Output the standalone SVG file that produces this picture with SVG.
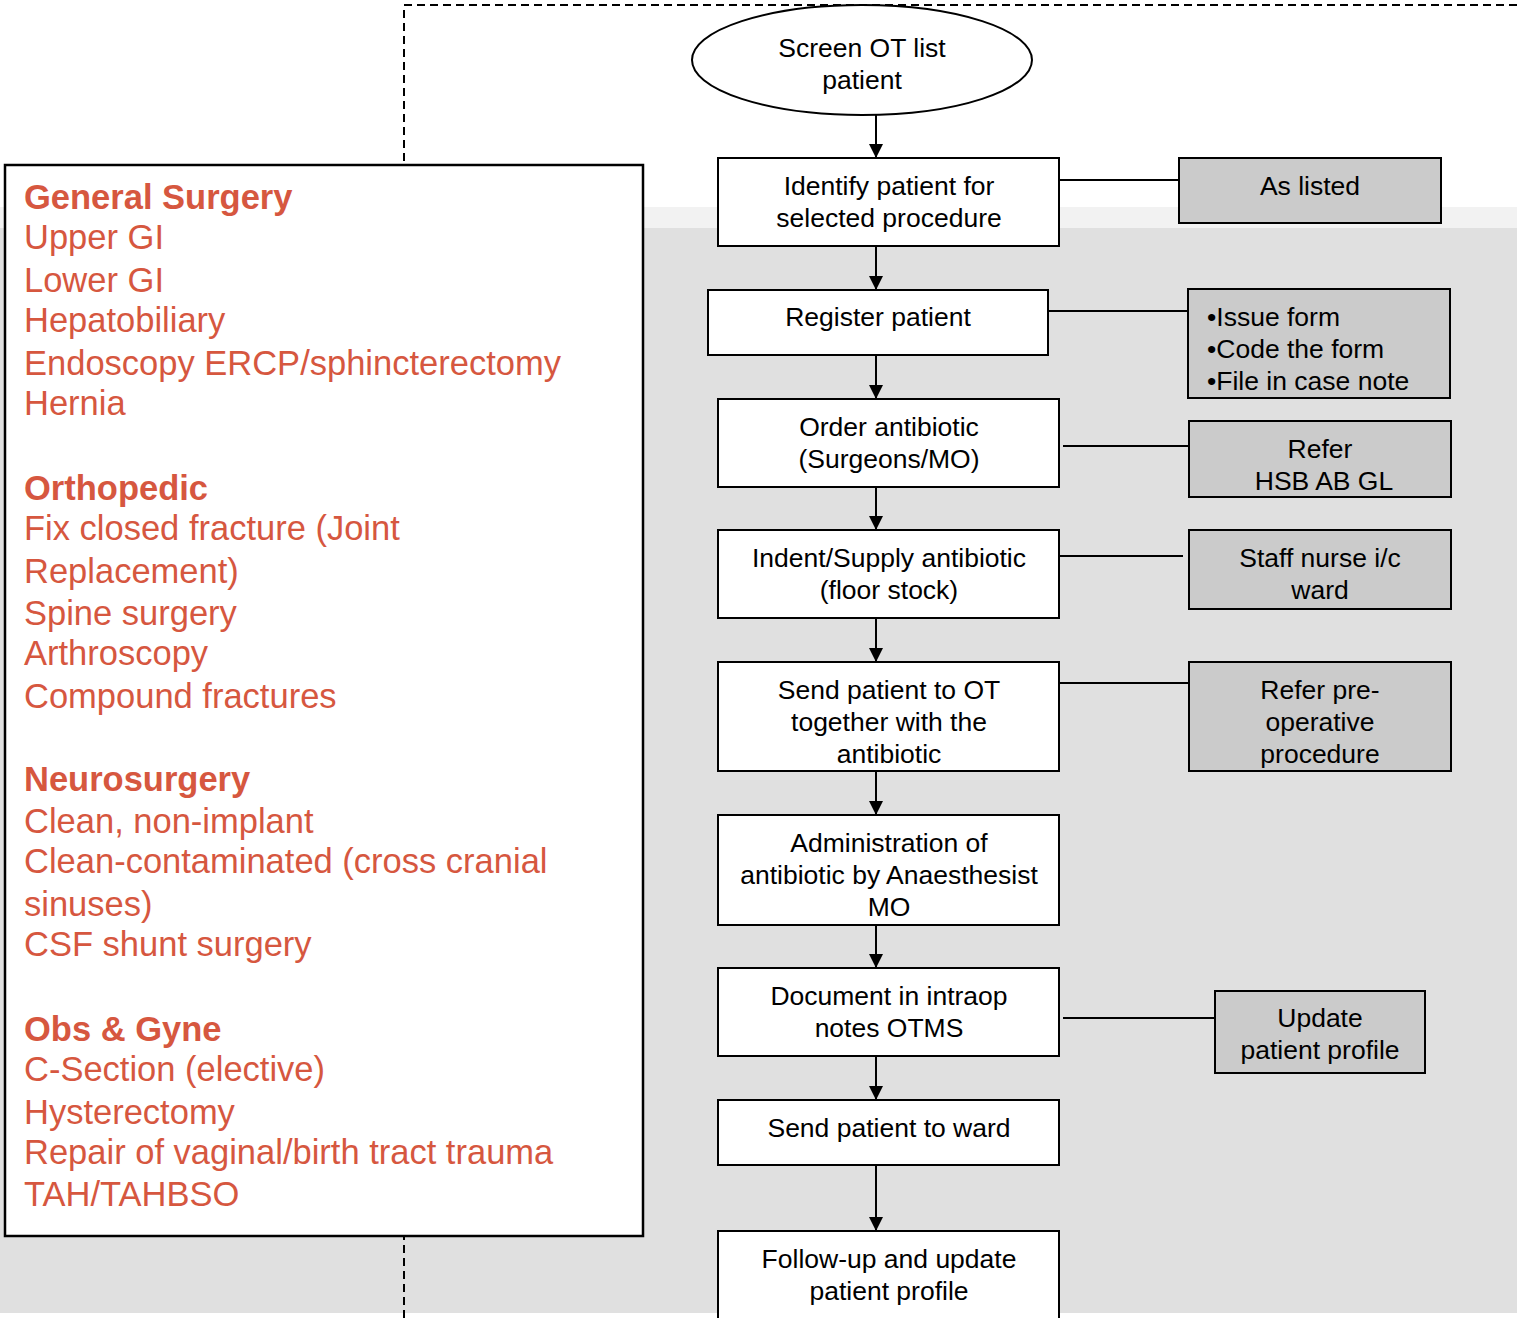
<svg xmlns="http://www.w3.org/2000/svg" width="1517" height="1318" viewBox="0 0 1517 1318">
<defs>
<style>
.t{font-family:"Liberation Sans",Arial,sans-serif;font-size:26.5px;fill:#000;text-anchor:middle}
.tl{font-family:"Liberation Sans",Arial,sans-serif;font-size:26.5px;fill:#000}
.r{font-family:"Liberation Sans",Arial,sans-serif;font-size:34.5px;fill:#d6573f}
.rb{font-family:"Liberation Sans",Arial,sans-serif;font-size:34.5px;fill:#d6573f;font-weight:bold}
.box{fill:#fff;stroke:#000;stroke-width:2}
.side{fill:#cbcbcb;stroke:#000;stroke-width:2}
.ln{stroke:#000;stroke-width:2;fill:none}
</style>
<marker id="ah" markerWidth="14" markerHeight="14" refX="14" refY="7" orient="auto" markerUnits="userSpaceOnUse" viewBox="0 0 14 14">
<path d="M0,0 L14,7 L0,14 Z" fill="#000"/>
</marker>
</defs>
<rect x="0" y="0" width="1517" height="1318" fill="#fff"/>
<rect x="0" y="207" width="1517" height="21" fill="#f2f2f2"/>
<rect x="0" y="228" width="1517" height="1085" fill="#e0e0e0"/>
<path d="M404,1318 L404,5 L1517,5" fill="none" stroke="#000" stroke-width="2" stroke-dasharray="8,5"/>

<g id="list">
<rect x="5" y="165" width="638" height="1071" fill="#fff" stroke="#000" stroke-width="2.5"/>
<text class="rb" x="24" y="209">General Surgery</text>
<text class="r" x="24" y="249">Upper GI</text>
<text class="r" x="24" y="292">Lower GI</text>
<text class="r" x="24" y="332">Hepatobiliary</text>
<text class="r" x="24" y="375">Endoscopy ERCP/sphincterectomy</text>
<text class="r" x="24" y="415">Hernia</text>
<text class="rb" x="24" y="500">Orthopedic</text>
<text class="r" x="24" y="540">Fix closed fracture (Joint</text>
<text class="r" x="24" y="583">Replacement)</text>
<text class="r" x="24" y="625">Spine surgery</text>
<text class="r" x="24" y="665">Arthroscopy</text>
<text class="r" x="24" y="708">Compound fractures</text>
<text class="rb" x="24" y="791">Neurosurgery</text>
<text class="r" x="24" y="833">Clean, non-implant</text>
<text class="r" x="24" y="873">Clean-contaminated (cross cranial</text>
<text class="r" x="24" y="916">sinuses)</text>
<text class="r" x="24" y="956">CSF shunt surgery</text>
<text class="rb" x="24" y="1041">Obs &amp; Gyne</text>
<text class="r" x="24" y="1081">C-Section (elective)</text>
<text class="r" x="24" y="1124">Hysterectomy</text>
<text class="r" x="24" y="1164">Repair of vaginal/birth tract trauma</text>
<text class="r" x="24" y="1206">TAH/TAHBSO</text>
</g>

<g id="connectors">
<line class="ln" x1="876" y1="115" x2="876" y2="158" marker-end="url(#ah)"/>
<line class="ln" x1="876" y1="246" x2="876" y2="290" marker-end="url(#ah)"/>
<line class="ln" x1="876" y1="355" x2="876" y2="399" marker-end="url(#ah)"/>
<line class="ln" x1="876" y1="487" x2="876" y2="530" marker-end="url(#ah)"/>
<line class="ln" x1="876" y1="618" x2="876" y2="662" marker-end="url(#ah)"/>
<line class="ln" x1="876" y1="771" x2="876" y2="815" marker-end="url(#ah)"/>
<line class="ln" x1="876" y1="925" x2="876" y2="968" marker-end="url(#ah)"/>
<line class="ln" x1="876" y1="1056" x2="876" y2="1100" marker-end="url(#ah)"/>
<line class="ln" x1="876" y1="1165" x2="876" y2="1231" marker-end="url(#ah)"/>
<line class="ln" x1="1059" y1="180" x2="1179" y2="180"/>
<line class="ln" x1="1048" y1="311" x2="1188" y2="311"/>
<line class="ln" x1="1063" y1="446" x2="1188" y2="446"/>
<line class="ln" x1="1056" y1="556" x2="1183" y2="556"/>
<line class="ln" x1="1056" y1="683" x2="1189" y2="683"/>
<line class="ln" x1="1063" y1="1018" x2="1215" y2="1018"/>
</g>

<g id="screen">
<ellipse cx="862" cy="60" rx="170" ry="55" fill="#fff" stroke="#000" stroke-width="2"/>
<text class="t" x="862" y="57">Screen OT list</text>
<text class="t" x="862" y="89">patient</text>
</g>
<g id="identify">
<rect class="box" x="718" y="158" width="341" height="88"/>
<text class="t" x="889" y="195">Identify patient for</text>
<text class="t" x="889" y="227">selected procedure</text>
</g>
<g id="register">
<rect class="box" x="708" y="290" width="340" height="65"/>
<text class="t" x="878" y="326">Register patient</text>
</g>
<g id="order">
<rect class="box" x="718" y="399" width="341" height="88"/>
<text class="t" x="889" y="436">Order antibiotic</text>
<text class="t" x="889" y="468">(Surgeons/MO)</text>
</g>
<g id="indent">
<rect class="box" x="718" y="530" width="341" height="88"/>
<text class="t" x="889" y="567">Indent/Supply antibiotic</text>
<text class="t" x="889" y="599">(floor stock)</text>
</g>
<g id="send-ot">
<rect class="box" x="718" y="662" width="341" height="109"/>
<text class="t" x="889" y="699">Send patient to OT</text>
<text class="t" x="889" y="731">together with the</text>
<text class="t" x="889" y="763">antibiotic</text>
</g>
<g id="admin">
<rect class="box" x="718" y="815" width="341" height="110"/>
<text class="t" x="889" y="852">Administration of</text>
<text class="t" x="889" y="884">antibiotic by Anaesthesist</text>
<text class="t" x="889" y="916">MO</text>
</g>
<g id="document">
<rect class="box" x="718" y="968" width="341" height="88"/>
<text class="t" x="889" y="1005">Document in intraop</text>
<text class="t" x="889" y="1037">notes OTMS</text>
</g>
<g id="send-ward">
<rect class="box" x="718" y="1100" width="341" height="65"/>
<text class="t" x="889" y="1137">Send patient to ward</text>
</g>
<g id="followup">
<rect class="box" x="718" y="1231" width="341" height="100"/>
<text class="t" x="889" y="1268">Follow-up and update</text>
<text class="t" x="889" y="1300">patient profile</text>
</g>

<g id="as-listed">
<rect class="side" x="1179" y="158" width="262" height="65"/>
<text class="t" x="1310" y="195">As listed</text>
</g>
<g id="issue">
<rect class="side" x="1188" y="289" width="262" height="109"/>
<text class="tl" x="1207" y="326">•Issue form</text>
<text class="tl" x="1207" y="358">•Code the form</text>
<text class="tl" x="1207" y="390">•File in case note</text>
</g>
<g id="refer-hsb">
<rect class="side" x="1189" y="421" width="262" height="76"/>
<text class="t" x="1320" y="458">Refer</text>
<text class="t" x="1324" y="490">HSB AB GL</text>
</g>
<g id="staff">
<rect class="side" x="1189" y="530" width="262" height="79"/>
<text class="t" x="1320" y="567">Staff nurse i/c</text>
<text class="t" x="1320" y="599">ward</text>
</g>
<g id="refer-pre">
<rect class="side" x="1189" y="662" width="262" height="109"/>
<text class="t" x="1320" y="699">Refer pre-</text>
<text class="t" x="1320" y="731">operative</text>
<text class="t" x="1320" y="763">procedure</text>
</g>
<g id="update">
<rect class="side" x="1215" y="991" width="210" height="82"/>
<text class="t" x="1320" y="1027">Update</text>
<text class="t" x="1320" y="1059">patient profile</text>
</g>
</svg>
